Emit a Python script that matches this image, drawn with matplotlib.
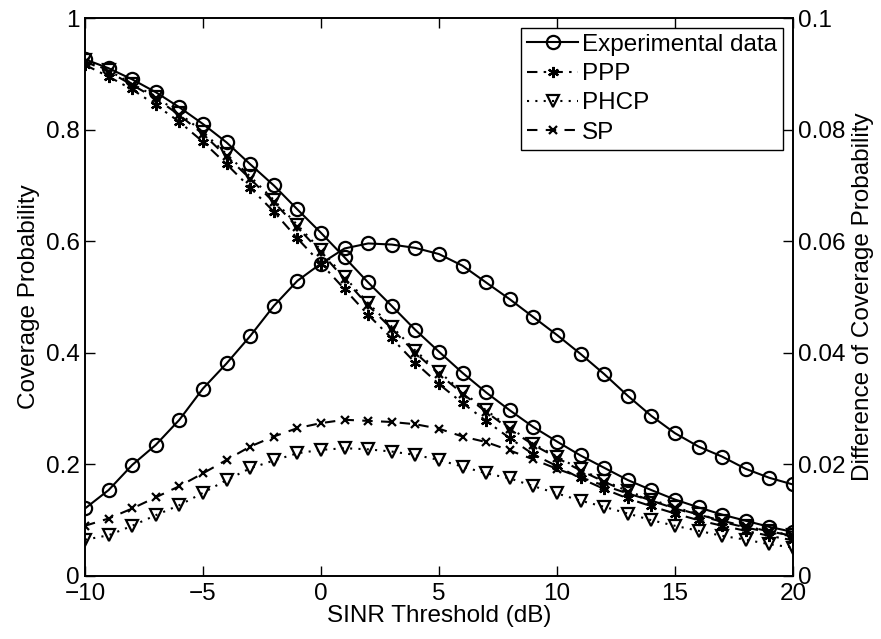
import matplotlib
matplotlib.use("Agg")
import matplotlib.pyplot as plt
from matplotlib.ticker import FixedLocator, FixedFormatter

plt.rcParams['font.family'] = ['Liberation Sans', 'DejaVu Sans']
plt.rcParams['axes.unicode_minus'] = True

sinr_db = list(range(-10, 21))

exp_cov = [0.926, 0.910, 0.890, 0.867, 0.840, 0.810, 0.777, 0.738, 0.700, 0.657, 0.615,
           0.571, 0.526, 0.484, 0.441, 0.402, 0.364, 0.329, 0.297, 0.267, 0.241,
           0.216, 0.194, 0.172, 0.154, 0.137, 0.123, 0.110, 0.099, 0.088, 0.079]
ppp_cov = [0.916, 0.895, 0.872, 0.844, 0.814, 0.778, 0.738, 0.696, 0.653, 0.605, 0.560,
           0.514, 0.468, 0.426, 0.382, 0.344, 0.310, 0.278, 0.247, 0.218, 0.197,
           0.175, 0.156, 0.139, 0.125, 0.112, 0.100, 0.090, 0.081, 0.072, 0.064]
phcp_cov = [0.924, 0.906, 0.882, 0.859, 0.829, 0.796, 0.756, 0.716, 0.674, 0.629, 0.584,
            0.536, 0.489, 0.447, 0.404, 0.366, 0.330, 0.297, 0.266, 0.237, 0.214,
            0.191, 0.171, 0.152, 0.137, 0.123, 0.111, 0.099, 0.089, 0.080, 0.073]
sp_cov = [0.922, 0.904, 0.880, 0.856, 0.826, 0.792, 0.752, 0.712, 0.670, 0.625, 0.580,
          0.532, 0.485, 0.443, 0.400, 0.362, 0.327, 0.294, 0.263, 0.235, 0.212,
          0.189, 0.169, 0.150, 0.135, 0.121, 0.109, 0.097, 0.087, 0.078, 0.071]

exp_diff = [0.0121, 0.0154, 0.0199, 0.0235, 0.0280, 0.0336, 0.0381, 0.0430, 0.0484, 0.0529, 0.0560,
            0.0587, 0.0596, 0.0594, 0.0588, 0.0577, 0.0556, 0.0526, 0.0496, 0.0464, 0.0432,
            0.0398, 0.0362, 0.0323, 0.0287, 0.0256, 0.0232, 0.0214, 0.0192, 0.0176, 0.0164]
sp_diff = [0.0090, 0.0103, 0.0121, 0.0141, 0.0161, 0.0184, 0.0208, 0.0232, 0.0250, 0.0265, 0.0274,
           0.0280, 0.0278, 0.0276, 0.0272, 0.0264, 0.0250, 0.0240, 0.0225, 0.0209, 0.0192,
           0.0177, 0.0162, 0.0148, 0.0135, 0.0122, 0.0110, 0.0099, 0.0089, 0.0080, 0.0072]
phcp_diff = [0.0065, 0.0073, 0.0090, 0.0109, 0.0127, 0.0149, 0.0172, 0.0193, 0.0207, 0.0220, 0.0226,
             0.0229, 0.0227, 0.0223, 0.0217, 0.0208, 0.0196, 0.0184, 0.0175, 0.0161, 0.0148,
             0.0135, 0.0124, 0.0112, 0.0100, 0.0090, 0.0081, 0.0072, 0.0065, 0.0057, 0.0051]

labels = ["Experimental data", "PPP", "PHCP", "SP"]
left_ticks = [0, 0.2, 0.4, 0.6, 0.8, 1.0]
left_labels = ["0", "0.2", "0.4", "0.6", "0.8", "1"]
right_ticks = [0, 0.02, 0.04, 0.06, 0.08, 0.1]
right_labels = ["0", "0.02", "0.04", "0.06", "0.08", "0.1"]
x_ticks = [-10, -5, 0, 5, 10, 15, 20]
x_labels = ["\u221210", "\u22125", "0", "5", "10", "15", "20"]

FS = 17.5
LFS = 17.5
fig = plt.figure(figsize=(8.81, 6.39), dpi=100)
ax1 = fig.add_axes([0.0965, 0.0986, 0.8035, 0.8732])
ax2 = ax1.twinx()

lw = 1.5
ms = 9.5
asterisk = (6, 2, 0)
styles = [
    dict(ls='-', marker='o', ms=ms, mfc='none'),
    dict(ls=(0, (5, 3, 1.2, 3)), marker=asterisk, ms=8),
    dict(ls=(0, (1, 3)), marker='v', ms=9, mfc='none'),
    dict(ls=(0, (5, 4)), marker='x', ms=6),
]
covs = [exp_cov, ppp_cov, phcp_cov, sp_cov]
handles = []
for c, st, lab in zip(covs, styles, labels):
    h, = ax1.plot(sinr_db, c, color='black', lw=lw, mew=1.6, mec='black', label=lab, **st)
    handles.append(h)

diffs = [(exp_diff, styles[0]), (sp_diff, styles[3]), (phcp_diff, styles[2])]
for d, st in diffs:
    ax2.plot(sinr_db, d, color='black', lw=lw, mew=1.6, mec='black', **st)

ax1.set_xlim(-10, 20)
ax1.set_ylim(0, 1)
ax2.set_ylim(0, 0.1)

ax1.xaxis.set_major_locator(FixedLocator(x_ticks))
ax1.xaxis.set_major_formatter(FixedFormatter(x_labels))
ax1.yaxis.set_major_locator(FixedLocator(left_ticks))
ax1.yaxis.set_major_formatter(FixedFormatter(left_labels))
ax2.yaxis.set_major_locator(FixedLocator(right_ticks))
ax2.yaxis.set_major_formatter(FixedFormatter(right_labels))

ax1.tick_params(axis='x', direction='in', top=True, length=7, width=1, labelsize=FS, pad=5)
ax1.tick_params(axis='y', direction='in', length=7, width=1, labelsize=FS, pad=4)
ax2.tick_params(axis='y', direction='in', length=7, width=1, labelsize=FS, pad=4)
for ax in (ax1, ax2):
    for s in ax.spines.values():
        s.set_linewidth(1.2)

ax1.set_xlabel("SINR Threshold (dB)", fontsize=LFS, labelpad=0)
ax1.set_ylabel("Coverage Probability", fontsize=LFS, labelpad=4)
ax2.set_ylabel("Difference of Coverage Probability", fontsize=LFS, labelpad=4)

leg = ax2.legend(handles, labels, loc='upper right', fontsize=FS, frameon=True, fancybox=False,
                 edgecolor='black', framealpha=1, borderpad=0.25, labelspacing=0.3,
                 handlelength=2.1, handletextpad=0.15, borderaxespad=0.4)
leg.get_frame().set_linewidth(1.0)

fig.savefig("out.png", dpi=100)
